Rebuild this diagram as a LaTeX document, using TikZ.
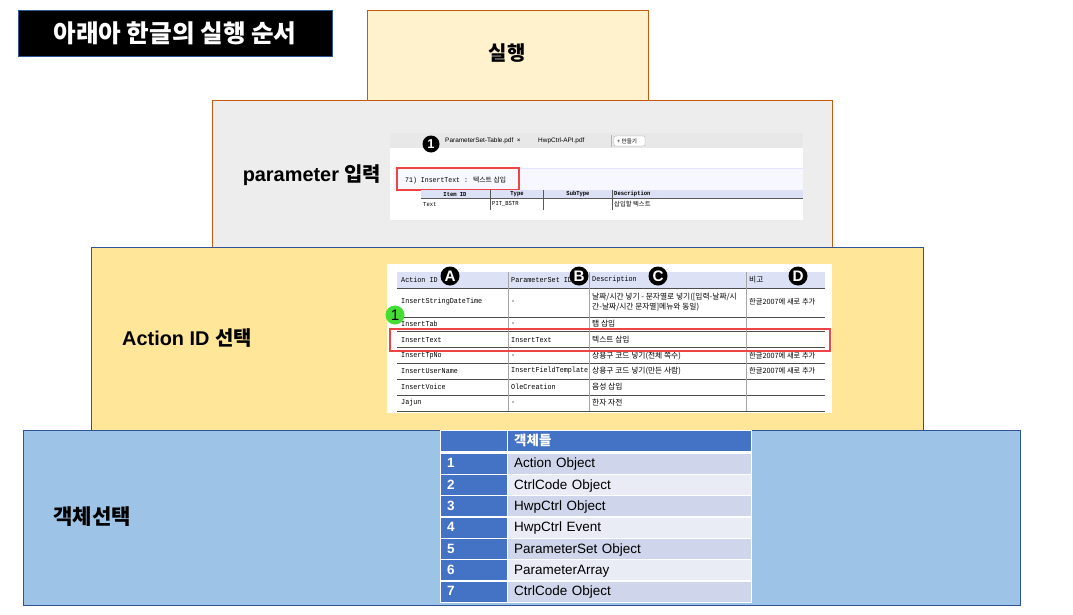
\documentclass[tikz,border=0pt]{standalone}
\usepackage{fontspec}
\setmainfont{Liberation Sans}
\newfontfamily\kr{Noto Sans CJK KR}
\newfontfamily\mono[FakeStretch=0.9]{Liberation Mono}
\usetikzlibrary{positioning}
\definecolor{runfill}{HTML}{FFF2CC}
\definecolor{orangeline}{HTML}{C55A11}
\definecolor{paramfill}{HTML}{EDEDED}
\definecolor{actionfill}{HTML}{FFE699}
\definecolor{blueline}{HTML}{2F5597}
\definecolor{objfill}{HTML}{9DC3E6}
\definecolor{tblue}{HTML}{4472C4}
\definecolor{rowdark}{HTML}{CFD5EA}
\definecolor{rowlight}{HTML}{E9EBF5}
\definecolor{shothead}{HTML}{DCE1F5}
\definecolor{tabgray}{HTML}{E8E8E8}
\definecolor{badgegreen}{HTML}{44DD33}
\definecolor{markred}{HTML}{EE4444}
\def\u{0.03cm}

\begin{document}
\begin{tikzpicture}[x=0.03cm,y=-0.03cm,
    label/.style={font=\fontsize{17}{20}\selectfont\bfseries},
    badge/.style={circle,fill=black,text=white,inner sep=0pt,minimum size=19*\u,font=\fontsize{13}{13}\selectfont\bfseries},
    shot/.style={anchor=west,inner sep=0pt,font=\mono\fontsize{6.4}{7}\selectfont},
    shotkr/.style={anchor=west,inner sep=0pt,font=\kr\fontsize{6.6}{7}\selectfont},
    cell/.style={anchor=north west,inner ysep=0pt,inner xsep=6*\u,minimum height=20*\u,text height=9pt,text depth=2pt},
    tabtext/.style={anchor=west,inner sep=0pt,font=\fontsize{5.5}{6}\selectfont}]
  \useasboundingbox (0,0) rectangle (1073,614);

  % the four stacked boxes
  \filldraw[fill=runfill,draw=orangeline,line width=0.8pt] (367,10) rectangle (648,100);
  \filldraw[fill=paramfill,draw=orangeline,line width=0.8pt] (212,100) rectangle (832,247);
  \filldraw[fill=actionfill,draw=blueline,line width=0.8pt] (91,247) rectangle (923,430);
  \filldraw[fill=objfill,draw=blueline,line width=0.8pt] (23,430) rectangle (1020,605);

  % title
  \filldraw[fill=black,draw=blueline,line width=0.6pt] (18,10) rectangle (332,56);
  \node[text=white,font=\kr\fontsize{21}{24}\selectfont\bfseries] (title) at (175,33) {아래아 한글의 실행 순서};

  \node[font=\kr\fontsize{17}{20}\selectfont\bfseries] (run) at (507,53) {실행};
  \node[label] (param) at (312,175) {parameter {\kr 입력}};
  \node[label] (action) at (187,338) {Action ID {\kr 선택}};
  \node[label,font=\kr\fontsize{18}{20}\selectfont\bfseries] (objsel) at (92,517) {객체선택};

  % screenshot: parameter table
  \fill[white] (390,133) rectangle (803,220);
  \fill[tabgray] (390,133) rectangle (803,148);
  \draw[gray!60] (611,135) -- (611,147);
  \filldraw[fill=white,draw=gray!70,rounded corners=1pt] (614,136) rectangle (645,146);
  \node[tabtext] (tab1) at (445,141) {ParameterSet-Table.pdf\ \ ×};
  \node[tabtext] (tab2) at (538,141) {HwpCtrl-API.pdf};
  \node[tabtext,font=\kr\fontsize{4.8}{5}\selectfont] (newtab) at (617,141) {+ 만들기};
  \node[badge,minimum size=17*\u,font=\fontsize{11}{11}\selectfont\bfseries] (p1) at (431,144) {1};
  \fill[blue!3] (393,168) rectangle (803,190);
  \draw[blue!10] (393,168) -- (803,168);
  \node[shot,font=\mono\fontsize{6.2}{7}\selectfont] (pname) at (405,180) {71) InsertText : {\kr\fontsize{5.8}{6}\selectfont 텍스트 삽입}};
  \draw[markred,line width=0.9pt] (397,168) rectangle (519,190);
  \fill[shothead] (421,190) rectangle (803,198);
  \draw[gray!70!black,line width=0.4pt] (421,198) -- (803,198);
  \foreach \xs in {490,543,612}
    \draw[gray!70!black,line width=0.4pt] (\xs,190) -- (\xs,210);
  \node[shot,anchor=center,font=\mono\fontsize{5.2}{6}\selectfont\bfseries] (hitem) at (455,194) {Item ID};
  \node[shot,anchor=center,font=\mono\fontsize{5.2}{6}\selectfont\bfseries] (htype) at (517,194) {Type};
  \node[shot,anchor=center,font=\mono\fontsize{5.2}{6}\selectfont\bfseries] (hsub) at (578,194) {SubType};
  \node[shot,font=\mono\fontsize{5.2}{6}\selectfont\bfseries] (hdesc) at (614,194) {Description};
  \node[shot,font=\mono\fontsize{5.2}{6}\selectfont] (ptext) at (423,204) {Text};
  \node[shot,font=\mono\fontsize{5.2}{6}\selectfont] (pbstr) at (492,204) {PIT\_BSTR};
  \node[shotkr,font=\kr\fontsize{5.4}{6}\selectfont] (pdesc) at (614,204) {삽입할 텍스트};

  % screenshot: action table
  \fill[white] (387,264) rectangle (832,413);
  \fill[shothead] (397,272) rectangle (825,288);
  \foreach \ys in {288,317,331,347,363,379,395,411}
    \draw[gray!60!black,line width=0.6pt] (397,\ys) -- (825,\ys);
  \foreach \xs in {508,589,746}
    \draw[gray!70,line width=0.5pt] (\xs,272) -- (\xs,411);
  \node[shot] (hact) at (401,280) {Action ID};
  \node[shot] (hpset) at (511,280) {ParameterSet ID};
  \node[shot] (hdescr) at (592,280) {Description};
  \node[shotkr] (hnote) at (749,280) {비고};
  \node[badge] (ba) at (450,276) {A};
  \node[badge] (bb) at (579,276) {B};
  \node[badge] (bc) at (658,276) {C};
  \node[badge] (bd) at (798,276) {D};
  \foreach \ry/\aid/\pid/\dsc/\nt [count=\i] in {
      324/InsertTab/-/탭 삽입/,
      340/InsertText/InsertText/텍스트 삽입/,
      356/InsertTpNo/-/상용구 코드 넣기(전체 쪽수)/한글2007에 새로 추가,
      371/InsertUserName/InsertFieldTemplate/상용구 코드 넣기(만든 사람)/한글2007에 새로 추가,
      387/InsertVoice/OleCreation/음성 삽입/,
      403/Jajun/-/한자 자전/} {
    \node[shot] (aid\i) at (401,\ry) {\aid};
    \node[shot] (pid\i) at (511,\ry) {\pid};
    \node[shotkr] (dsc\i) at (592,\ry) {\dsc};
    \node[shotkr,font=\kr\fontsize{6.2}{7}\selectfont] (nt\i) at (749,\ry) {\nt};
  }
  \node[shot] (aid0) at (401,302) {InsertStringDateTime};
  \node[shot] (pid0) at (511,302) {-};
  \node[shotkr,font=\kr\fontsize{6.6}{7.8}\selectfont,align=left] (dsc0) at (592,302) {날짜/시간 넣기 - 문자열로 넣기([입력-날짜/시\\간-날짜/시간 문자열]메뉴와 동일)};
  \node[shotkr,font=\kr\fontsize{6.2}{7}\selectfont] (nt0) at (749,302) {한글2007에 새로 추가};
  \draw[markred,line width=0.9pt] (390,329) rectangle (830,351);
  \node[badge,fill=badgegreen,text=black,font=\fontsize{13}{13}\selectfont] (g1) at (395,315) {1};

  % object table
  \fill[white] (440,430) rectangle (752,603);
  \node[cell,fill=tblue,minimum width=66*\u] (hnum) at (441,431) {};
  \node[cell,fill=tblue,text width=231*\u,text=white,font=\kr\fontsize{11.5}{13}\selectfont\bfseries] (hobj) at (508,431) {객체들};
  \foreach \n/\obj [count=\i] in {1/Action Object,2/CtrlCode Object,3/HwpCtrl Object,4/HwpCtrl Event,5/ParameterSet Object,6/ParameterArray,7/CtrlCode Object} {
    \pgfmathsetmacro\ry{453.5+(\i-1)*21.35}
    \ifodd\i \def\shade{rowdark}\else\def\shade{rowlight}\fi
    \node[cell,fill=tblue,text width=54*\u,text=white,font=\fontsize{11.5}{13}\selectfont\bfseries] (num\i) at (441,\ry) {\n};
    \node[cell,fill=\shade,text width=231*\u,font=\fontsize{11.5}{13}\selectfont] (obj\i) at (508,\ry) {\obj};
  }
\end{tikzpicture}
\end{document}
